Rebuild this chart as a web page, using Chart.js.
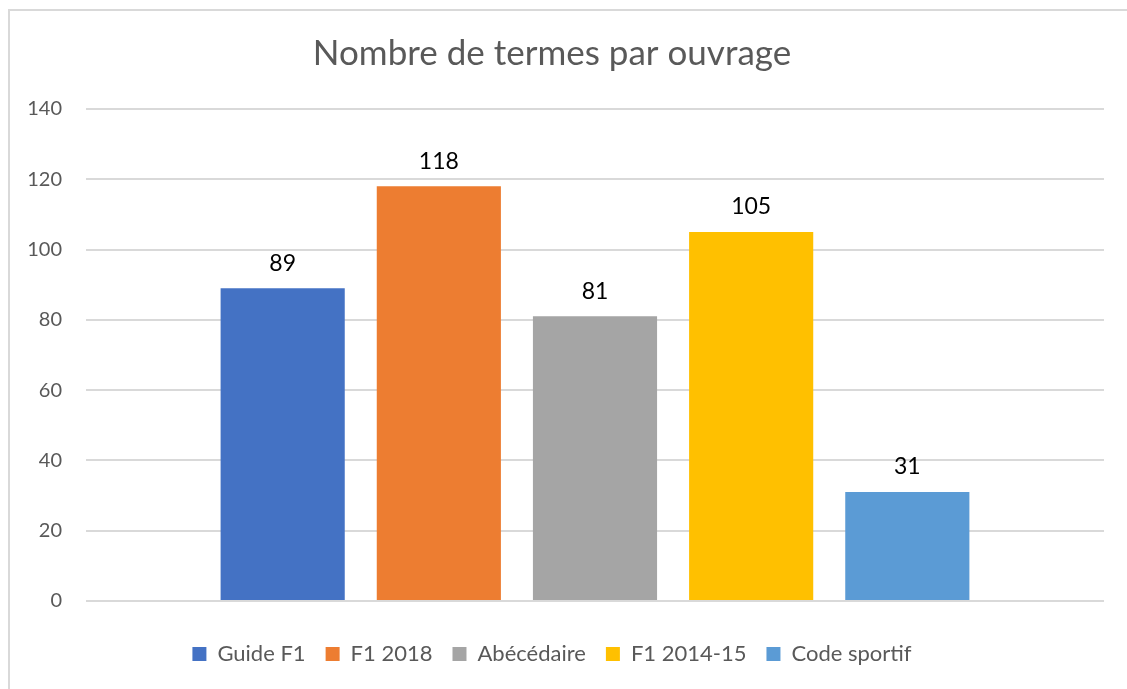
<!DOCTYPE html>
<html>
<head>
<meta charset="utf-8">
<script src="https://cdn.jsdelivr.net/npm/chart.js@4/dist/chart.umd.min.js"></script>
<style>
    html, body { margin: 0; padding: 0; background: #fff; }
    #frame {
        position: absolute; left: 8px; top: 9px; width: 1119px; height: 680px;
        border-left: 2px solid #d9d9d9; border-top: 2px solid #d9d9d9;
    }
    #wrap { position: absolute; left: 0; top: 0; width: 1127px; height: 689px; }
</style>
</head>
<body>
<div id="frame"></div>
<div id="wrap"><canvas id="chart" width="1127" height="689"></canvas></div>
<script>
// Data
const seriesNames = ["Guide F1", "F1 2018", "Abécédaire", "F1 2014-15", "Code sportif"];
const seriesValues = [89, 118, 81, 105, 31];
const yTicks = [0, 20, 40, 60, 80, 100, 120, 140];
const colors = ["#4472C4", "#ED7D31", "#A5A5A5", "#FFC000", "#5B9BD5"];

const FONT = "Lato, 'Open Sans', sans-serif";

// draws the value above each bar
const valueLabels = {
    id: "valueLabels",
    afterDatasetsDraw(chart) {
        const ctx = chart.ctx;
        ctx.save();
        ctx.font = "23px " + FONT;
        ctx.fillStyle = "#000";
        ctx.textAlign = "center";
        ctx.textBaseline = "middle";
        chart.data.datasets.forEach((ds, i) => {
            const meta = chart.getDatasetMeta(i);
            meta.data.forEach((bar, j) => {
                ctx.fillText(ds.data[j], bar.x, bar.y - 25);
            });
        });
        ctx.restore();
    }
};

new Chart(document.getElementById("chart").getContext("2d"), {
    type: "bar",
    data: {
        labels: [""],
        datasets: seriesNames.map((name, i) => ({
            label: name,
            data: [seriesValues[i]],
            backgroundColor: colors[i],
            categoryPercentage: 0.767,
            barPercentage: 0.795,
        }))
    },
    options: {
        responsive: false,
        animation: false,
        layout: { padding: { left: 0, right: 23, top: 0, bottom: 14 } },
        plugins: {
            title: {
                display: true,
                text: "Nombre de termes par ouvrage",
                color: "#595959",
                font: { family: FONT, size: 35, weight: "normal" },
                padding: { top: 33, bottom: 34 }
            },
            legend: {
                position: "bottom",
                labels: {
                    color: "#595959",
                    font: { family: FONT, size: 22 },
                    boxWidth: 14,
                    boxHeight: 14,
                    padding: 20
                }
            },
            tooltip: { enabled: false }
        },
        scales: {
            x: {
                grid: { display: false },
                border: { display: false },
                ticks: { display: false },
                afterFit(axis) { axis.height = 22; }
            },
            y: {
                min: 0,
                max: 140,
                afterBuildTicks(axis) { axis.ticks = yTicks.map(v => ({ value: v })); },
                grid: { color: "#d9d9d9", lineWidth: 2, drawTicks: false },
                border: { display: false },
                ticks: {
                    color: "#595959",
                    font: { family: FONT, size: 20 },
                    padding: 24
                },
                afterFit(axis) { axis.width = 86; }
            }
        }
    },
    plugins: [valueLabels]
});
</script>
</body>
</html>
